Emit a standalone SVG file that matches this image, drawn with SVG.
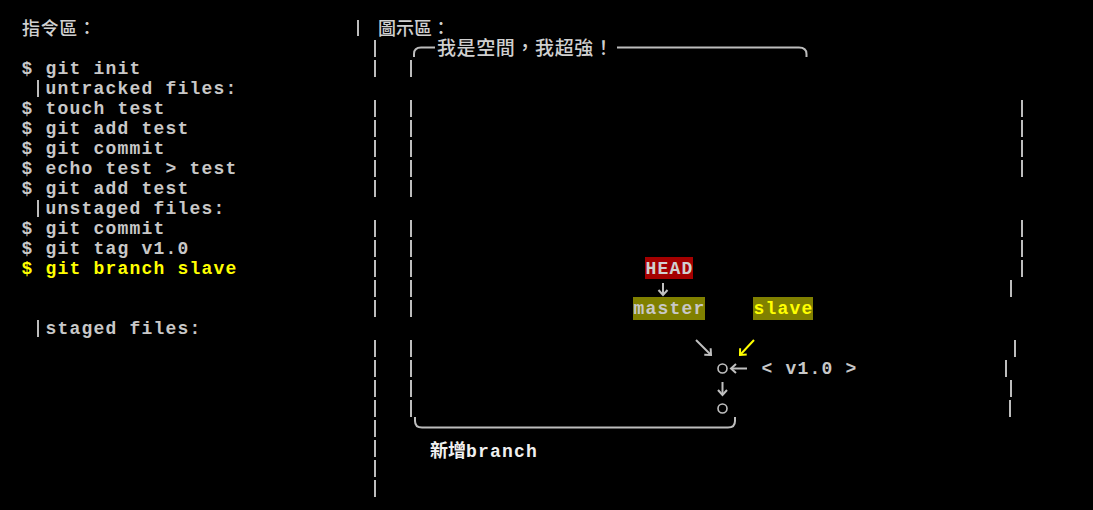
<svg xmlns="http://www.w3.org/2000/svg" width="1093" height="510" viewBox="0 0 1093 510">
<defs>
<style>
.mono{font-family:"Liberation Mono","DejaVu Sans Mono",monospace;font-size:18px;letter-spacing:1.2px;font-weight:bold;fill:#c8c8c8}
.cjk{font-family:"Noto Sans CJK TC","Noto Sans CJK SC",sans-serif;font-weight:500;fill:#d0d0d0}
.pipe{stroke:#bdbdbd;stroke-width:2;fill:none}
.rule{stroke:#bdbdbd;stroke-width:2;fill:none}
.conn{stroke:#c0c0c0;stroke-width:2;fill:none}
.connY{stroke:#ffff00;stroke-width:2;fill:none}
</style>
<marker id="ah" markerUnits="userSpaceOnUse" markerWidth="12" markerHeight="12" refX="9" refY="6" orient="auto">
<path d="M4,1.5 L9,6 L4,10.5" fill="none" stroke="#c0c0c0" stroke-width="2"/>
</marker>
<marker id="ahY" markerUnits="userSpaceOnUse" markerWidth="12" markerHeight="12" refX="9" refY="6" orient="auto">
<path d="M4,1.5 L9,6 L4,10.5" fill="none" stroke="#ffff00" stroke-width="2"/>
</marker>
</defs>
<rect width="1093" height="510" fill="#000000"/>

<g id="command-panel">
<text class="cjk" x="22" y="35" font-size="18" textLength="74">指令區：</text>
<text class="mono" x="21.5" y="74">$ git init</text>
<text class="mono" x="45.5" y="94">untracked files:</text>
<text class="mono" x="21.5" y="114">$ touch test</text>
<text class="mono" x="21.5" y="134">$ git add test</text>
<text class="mono" x="21.5" y="154">$ git commit</text>
<text class="mono" x="21.5" y="174">$ echo test &gt; test</text>
<text class="mono" x="21.5" y="194">$ git add test</text>
<text class="mono" x="45.5" y="214">unstaged files:</text>
<text class="mono" x="21.5" y="234">$ git commit</text>
<text class="mono" x="21.5" y="254">$ git tag v1.0</text>
<text class="mono" x="21.5" y="274" style="fill:#ffff00">$ git branch slave</text>
<text class="mono" x="45.5" y="334">staged files:</text>
<path class="pipe" d="M38 80V97M38 200V217M38 320V337"/>
</g>

<g id="divider">
<path class="pipe" d="M358 20V36M375 40V57M375 60V77M375 100V117M375 120V137M375 140V157M375 160V177M375 180V197M375 220V237M375 240V257M375 260V277M375 280V297M375 300V317M375 340V357M375 360V377M375 380V397M375 400V417M375 420V437M375 440V457M375 460V477M375 480V497"/>
</g>

<g id="diagram-panel">
<text class="cjk" x="378" y="35" font-size="18" textLength="72">圖示區：</text>
<path class="pipe" d="M411 60V77M411 100V117M411 120V137M411 140V157M411 160V177M411 180V197M411 220V237M411 240V257M411 260V277M411 280V297M411 300V317M411 340V357M411 360V377M411 380V397M411 400V417"/>
<path class="pipe" d="M1022 100V117M1022 120V137M1022 140V157M1022 160V177M1022 220V237M1022 240V257M1022 260V277M1011 280V297M1015 340V357M1006 360V377M1011 380V397M1010 400V417"/>
</g>

<g id="space-box">
<path class="rule" d="M414 57V54Q414 47.5 421 47.5H435"/>
<path class="rule" d="M617 47.5H799Q806.5 47.5 806.5 54V57"/>
<text class="cjk" x="437" y="55" font-size="19" textLength="176">我是空間，我超強！</text>
</g>

<g id="branch-box">
<path class="rule" d="M415 417V421Q415 427.5 422 427.5H728Q735 427.5 735 421V417"/>
<text x="430" y="457"><tspan class="cjk" font-size="18" style="fill:#f0f0f0;font-weight:bold">新增</tspan><tspan class="mono" style="fill:#f0f0f0">branch</tspan></text>
</g>

<g id="HEAD">
<rect x="645" y="257" width="48" height="22" fill="#a50000"/>
<text class="mono" x="645.5" y="274" style="fill:#d0d0d0">HEAD</text>
</g>
<g id="master">
<rect x="633" y="297" width="72" height="23" fill="#808000"/>
<text class="mono" x="633.5" y="314" style="fill:#c8c8c8">master</text>
</g>
<g id="slave">
<rect x="753" y="297" width="60" height="23" fill="#808000"/>
<text class="mono" x="753.5" y="314" style="fill:#ffff00">slave</text>
</g>
<g id="commit-2">
<circle cx="722.5" cy="368.5" r="4.5" fill="none" stroke="#c0c0c0" stroke-width="1.6"/>
</g>
<g id="commit-1">
<circle cx="722.5" cy="408.5" r="4.5" fill="none" stroke="#c0c0c0" stroke-width="1.6"/>
</g>
<g id="tag-v1.0">
<text class="mono" x="761.5" y="374">&lt; v1.0 &gt;</text>
</g>

<g id="connectors">
<path class="conn" d="M663 283V295" marker-end="url(#ah)"/>
<path class="conn" d="M696 340L711 355" marker-end="url(#ah)"/>
<path class="connY" d="M754 340L740 355" marker-end="url(#ahY)"/>
<path class="conn" d="M747 368.5H731" marker-end="url(#ah)"/>
<path class="conn" d="M722.5 382V395" marker-end="url(#ah)"/>
</g>
</svg>
